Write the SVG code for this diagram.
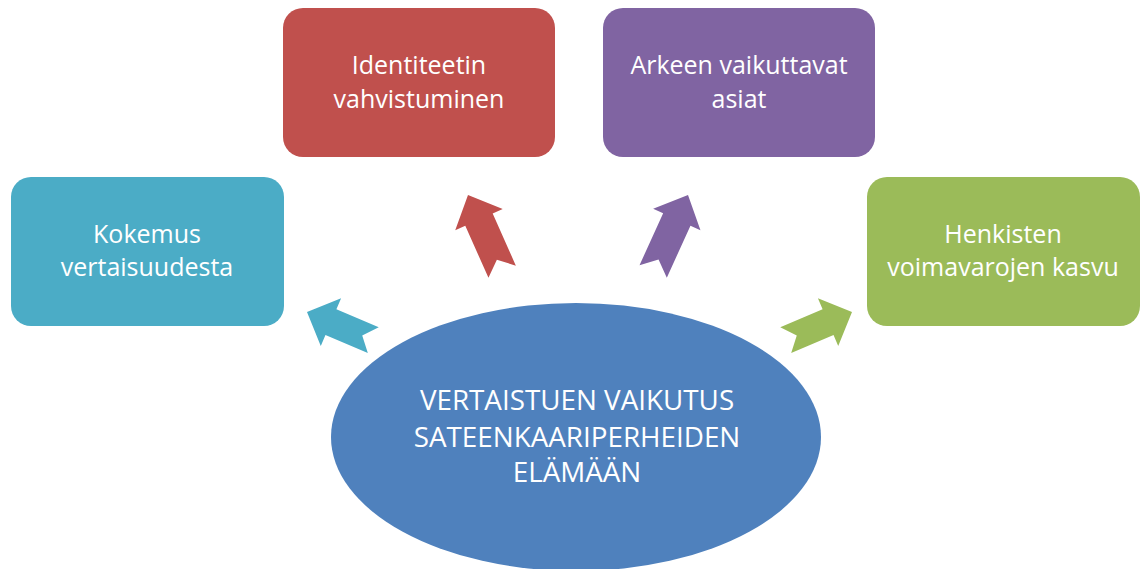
<svg xmlns="http://www.w3.org/2000/svg" width="1141" height="569" viewBox="0 0 1141 569">
<style>
.box{stroke:none}
.t{font-family:"Open Sans","Liberation Sans",sans-serif;font-size:25px;fill:#fff;text-anchor:middle}
.c{font-family:"Open Sans","Liberation Sans",sans-serif;font-size:27.8px;fill:#fff;text-anchor:middle}
</style>
<defs>
<polygon id="arrL" points="0,0 26,27 15,27 15,84 0,71 -15,84 -15,27 -26,27"/>
<polygon id="arrS" points="0,0 26,26 14,26 14,72 0,60 -14,72 -14,26 -26,26"/>
</defs>
<rect width="1141" height="569" fill="#fff"/>
<g id="center">
<ellipse cx="576" cy="437" rx="245" ry="134" fill="#4F81BD"/>
<text class="c" x="577" y="410">VERTAISTUEN VAIKUTUS</text>
<text class="c" x="577" y="447">SATEENKAARIPERHEIDEN</text>
<text class="c" x="577" y="482">ELÄMÄÄN</text>
</g>
<g id="n1">
<rect class="box" x="11" y="177" width="273" height="149" rx="20" fill="#4BACC6"/>
<text class="t" x="147" y="243">Kokemus</text>
<text class="t" x="147" y="276">vertaisuudesta</text>
</g>
<g id="n2">
<rect class="box" x="283" y="8" width="272" height="149" rx="20" fill="#C0504D"/>
<text class="t" x="419" y="74">Identiteetin</text>
<text class="t" x="419" y="108">vahvistuminen</text>
</g>
<g id="n3">
<rect class="box" x="603" y="8" width="272" height="149" rx="20" fill="#8064A2"/>
<text class="t" x="739" y="74">Arkeen vaikuttavat</text>
<text class="t" x="739" y="108">asiat</text>
</g>
<g id="n4">
<rect class="box" x="867" y="177" width="273" height="149" rx="20" fill="#9BBB59"/>
<text class="t" x="1003" y="243">Henkisten</text>
<text class="t" x="1003" y="276">voimavarojen kasvu</text>
</g>
<g id="connectors">
<use href="#arrS" fill="#4BACC6" transform="translate(307,312) rotate(-67)"/>
<use href="#arrL" fill="#C0504D" transform="translate(468,195) rotate(-24)"/>
<use href="#arrL" fill="#8064A2" transform="translate(688,195) rotate(24.5)"/>
<use href="#arrS" fill="#9BBB59" transform="translate(852,312) rotate(67)"/>
</g>
</svg>
